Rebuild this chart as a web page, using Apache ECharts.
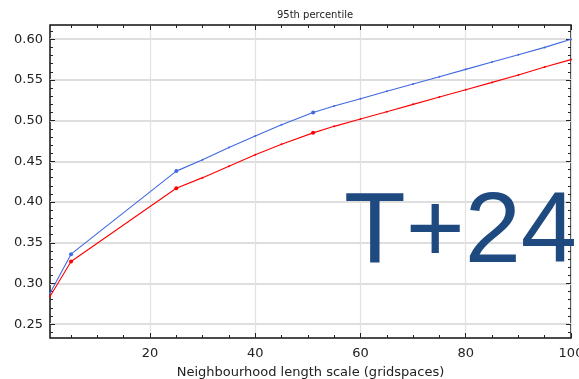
<!DOCTYPE html>
<html>
<head>
<meta charset="utf-8">
<script src="https://cdn.jsdelivr.net/npm/echarts@6/dist/echarts.min.js"></script>
<style>
  html, body { margin: 0; padding: 0; background: #fff; }
  #chart { width: 579px; height: 379px; }
</style>
</head>
<body>
<div id="chart"></div>
<script>
// Neighbourhood length scale (gridspaces)
const scales = [1, 5, 25, 30, 35, 40, 45, 51, 55, 60, 65, 70, 75, 80, 85, 90, 95, 100];
// 95th percentile scores for the two runs
const blueValues = [0.288, 0.336, 0.438, 0.452, 0.467, 0.481, 0.495, 0.510, 0.518, 0.527, 0.536, 0.545, 0.554, 0.563, 0.572, 0.581, 0.590, 0.600];
const redValues  = [0.284, 0.327, 0.417, 0.430, 0.444, 0.458, 0.471, 0.485, 0.493, 0.502, 0.511, 0.520, 0.529, 0.538, 0.547, 0.556, 0.566, 0.575];
// Tick positions
const xMajor = [20, 40, 60, 80, 100];
const xMinor = [5, 10, 15, 25, 30, 35, 45, 50, 55, 65, 70, 75, 85, 90, 95];
const yMajor = [0.25, 0.30, 0.35, 0.40, 0.45, 0.50, 0.55, 0.60];
const yMinor = [0.24, 0.26, 0.27, 0.28, 0.29, 0.31, 0.32, 0.33, 0.34, 0.36, 0.37, 0.38, 0.39,
                0.41, 0.42, 0.43, 0.44, 0.46, 0.47, 0.48, 0.49, 0.51, 0.52, 0.53, 0.54,
                0.56, 0.57, 0.58, 0.59, 0.61];
const bigMarkers = [5, 25, 51];

const X_MIN = 1, X_MAX = 100, Y_MIN = 0.233, Y_MAX = 0.6175;
const font = 'DejaVu Sans';

function pairs(xs, ys) { return xs.map((x, i) => [x, ys[i]]); }

function xAxisDef(position, ticks, len, opts) {
  return Object.assign({
    type: 'value', position: position, min: X_MIN, max: X_MAX,
    axisLine: { show: false },
    axisTick: { show: true, inside: true, length: len, customValues: ticks, lineStyle: { color: '#222', width: 1 } },
    axisLabel: { show: false },
    splitLine: { show: false }
  }, opts || {});
}
function yAxisDef(position, ticks, len, opts) {
  return Object.assign({
    type: 'value', position: position, min: Y_MIN, max: Y_MAX,
    axisLine: { show: false },
    axisTick: { show: true, inside: true, length: len, customValues: ticks, lineStyle: { color: '#222', width: 1 } },
    axisLabel: { show: false },
    splitLine: { show: false }
  }, opts || {});
}

const chart = echarts.init(document.getElementById('chart'), null, { renderer: 'canvas' });
chart.setOption({
  animation: false,
  backgroundColor: '#fff',
  title: {
    text: '95th percentile', left: 310, top: 5, textAlign: 'center',
    textStyle: { fontFamily: font, fontSize: 10, fontWeight: 'normal', color: '#222' }
  },
  grid: {
    left: 50, right: 8, top: 25, bottom: 41,
    outerBoundsMode: 'none', containLabel: false,
    show: true, borderColor: '#111', borderWidth: 1.5, backgroundColor: 'transparent'
  },
  xAxis: [
    xAxisDef('bottom', xMajor, 5, {
      name: 'Neighbourhood length scale (gridspaces)', nameLocation: 'middle', nameGap: 28,
      nameTextStyle: { fontFamily: font, fontSize: 13, color: '#222' },
      axisLabel: { show: true, customValues: xMajor, margin: 9, fontFamily: font, fontSize: 13, color: '#222' },
      splitLine: { show: true, lineStyle: { color: '#e2e2e2', width: 1.2 } }
    }),
    xAxisDef('bottom', xMinor, 3),
    xAxisDef('top', xMajor, 5),
    xAxisDef('top', xMinor, 3)
  ],
  yAxis: [
    yAxisDef('left', yMajor, 5, {
      axisLabel: { show: true, customValues: yMajor, margin: 7, fontFamily: font, fontSize: 13, color: '#222',
                   formatter: v => v.toFixed(2) },
      splitLine: { show: true, lineStyle: { color: '#dedede', width: 1.8 } }
    }),
    yAxisDef('left', yMinor, 3),
    yAxisDef('right', yMajor, 5),
    yAxisDef('right', yMinor, 3)
  ],
  graphic: [{
    type: 'text', left: 344, top: 184, z: 10,
    style: { text: 'T+24', fontFamily: 'Liberation Sans', fontSize: 101, fill: '#1f4a80' }
  }],
  series: [
    {
      type: 'line', xAxisIndex: 0, yAxisIndex: 0,
      data: pairs(scales, blueValues),
      symbol: 'circle',
      symbolSize: (v) => bigMarkers.includes(v[0]) ? 4 : 2,
      lineStyle: { color: '#4169e1', width: 1.1 },
      itemStyle: { color: '#4169e1' }
    },
    {
      type: 'line', xAxisIndex: 0, yAxisIndex: 0,
      data: pairs(scales, redValues),
      symbol: 'circle',
      symbolSize: (v) => bigMarkers.includes(v[0]) ? 4 : 2,
      lineStyle: { color: '#ff0000', width: 1.1 },
      itemStyle: { color: '#ff0000' }
    }
  ]
});
</script>
</body>
</html>
